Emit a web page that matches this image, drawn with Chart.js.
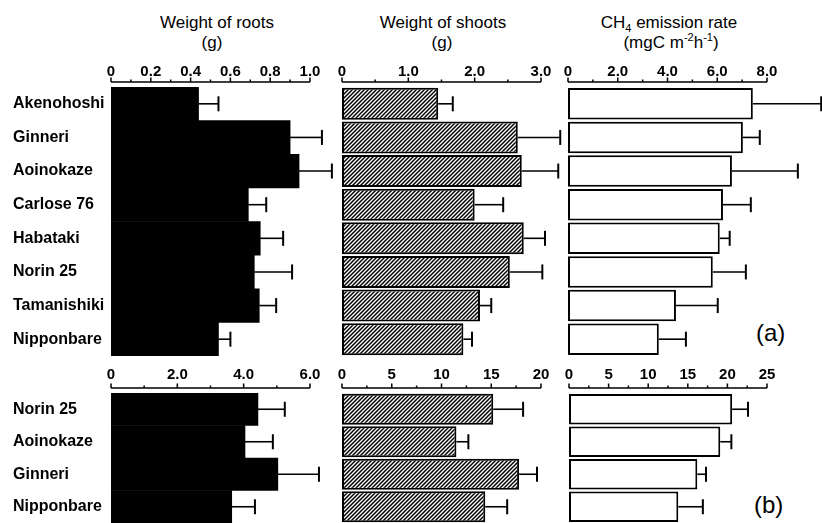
<!DOCTYPE html>
<html>
<head>
<meta charset="utf-8">
<script src="https://cdn.jsdelivr.net/npm/chart.js@4"></script>
<style>
  html, body { margin: 0; padding: 0; background: #fff; overflow: hidden; }
  body { width: 822px; height: 523px; position: relative; font-family: "Liberation Sans", Arial, sans-serif; color: #000; }
  canvas { position: absolute; }
  .t { position: absolute; width: 220px; text-align: center; font-size: 17px; line-height: 20px; white-space: nowrap; }
  .t sub, .t sup { font-size: 11px; line-height: 0; }
  .tag { position: absolute; font-size: 24px; line-height: 26px; }
</style>
</head>
<body>
<div class="t" style="left:107px;top:13px">Weight of roots</div>
<div class="t" style="left:102px;top:33px">(g)</div>
<div class="t" style="left:333px;top:13px">Weight of shoots</div>
<div class="t" style="left:332px;top:33px">(g)</div>
<div class="t" style="left:559px;top:13px">CH<sub>4</sub> emission rate</div>
<div class="t" style="left:561px;top:33px">(mgC m<sup>-2</sup>h<sup>-1</sup>)</div>
<div class="tag" style="left:756px;top:320px">(a)</div>
<div class="tag" style="left:754px;top:492px">(b)</div>

<canvas id="rootsA" width="325" height="310" style="left:13px;top:60px"></canvas>
<canvas id="shootsA" width="240" height="310" style="left:326px;top:60px"></canvas>
<canvas id="ch4A" width="270" height="310" style="left:552px;top:60px"></canvas>
<canvas id="rootsB" width="325" height="171" style="left:13px;top:366px"></canvas>
<canvas id="shootsB" width="240" height="171" style="left:326px;top:366px"></canvas>
<canvas id="ch4B" width="270" height="171" style="left:552px;top:366px"></canvas>

<script>
// (a) eight cultivars
const cultivarsA = ["Akenohoshi", "Ginneri", "Aoinokaze", "Carlose 76", "Habataki", "Norin 25", "Tamanishiki", "Nipponbare"]
const rootsA = [0.44, 0.90, 0.945, 0.69, 0.75, 0.72, 0.745, 0.54]
const rootsErrA = [0.10, 0.16, 0.165, 0.09, 0.115, 0.19, 0.085, 0.06]
const shootsA = [1.45, 2.65, 2.71, 2.0, 2.74, 2.53, 2.08, 1.83]
const shootsErrA = [0.22, 0.64, 0.55, 0.43, 0.32, 0.49, 0.17, 0.13]
const ch4A = [7.43, 7.03, 6.59, 6.23, 6.1, 5.82, 4.34, 3.65]
const ch4ErrA = [2.75, 0.68, 2.65, 1.12, 0.4, 1.33, 1.68, 1.09]

// (b) four cultivars
const cultivarsB = ["Norin 25", "Aoinokaze", "Ginneri", "Nipponbare"]
const rootsB = [4.43, 4.04, 5.03, 3.64]
const rootsErrB = [0.81, 0.84, 1.24, 0.70]
const shootsB = [15.2, 11.5, 17.8, 14.4]
const shootsErrB = [3.0, 1.2, 1.8, 2.2]
const ch4B = [20.6, 19.1, 16.2, 13.8]
const ch4ErrB = [2.0, 1.4, 1.1, 3.1]

// tick labels
const rootsTicksA = ["0", "0.2", "0.4", "0.6", "0.8", "1.0"]
const shootsTicksA = ["0", "1.0", "2.0", "3.0"]
const ch4TicksA = ["0", "2.0", "4.0", "6.0", "8.0"]
const rootsTicksB = ["0", "2.0", "4.0", "6.0"]
const shootsTicksB = ["0", "5", "10", "15", "20"]
const ch4TicksB = ["0", "5", "10", "15", "20", "25"]

const FONT = "'Liberation Sans', Arial, sans-serif"

function hatch() {
  const c = document.createElement("canvas")
  c.width = 4
  c.height = 4
  const g = c.getContext("2d")
  g.fillStyle = "#fff"
  g.fillRect(0, 0, 4, 4)
  g.strokeStyle = "#000"
  g.lineWidth = 1.5
  g.beginPath()
  g.moveTo(0, 4); g.lineTo(4, 0)
  g.moveTo(-1, 1); g.lineTo(1, -1)
  g.moveTo(3, 5); g.lineTo(5, 3)
  g.stroke()
  return g.createPattern(c, "repeat")
}

// axis line drawn a few px above the bars, with the scale's own ticks
const axisLine = {
  id: "axisLine",
  afterDraw(chart) {
    const x = chart.scales.x
    const ctx = chart.ctx
    const y0 = chart.chartArea.top - 5
    ctx.save()
    ctx.strokeStyle = "#000"
    ctx.lineWidth = 1.5
    ctx.beginPath()
    ctx.moveTo(x.getPixelForValue(x.min), y0)
    ctx.lineTo(x.getPixelForValue(x.max), y0)
    x.ticks.forEach((t) => {
      const px = x.getPixelForValue(t.value)
      ctx.moveTo(px, y0)
      ctx.lineTo(px, y0 - (t.label ? 4.5 : 2.5))
    })
    ctx.stroke()
    ctx.restore()
  },
}

const errorBars = {
  id: "errorBars",
  afterDatasetsDraw(chart) {
    const ctx = chart.ctx
    const x = chart.scales.x
    chart.data.datasets.forEach((ds, di) => {
      chart.getDatasetMeta(di).data.forEach((bar, i) => {
        const end = x.getPixelForValue(ds.data[i] + ds.errors[i])
        ctx.save()
        ctx.strokeStyle = "#000"
        ctx.lineWidth = 1.6
        ctx.beginPath()
        ctx.moveTo(bar.x, bar.y)
        ctx.lineTo(end, bar.y)
        ctx.stroke()
        ctx.lineWidth = 2
        ctx.beginPath()
        ctx.moveTo(end, bar.y - 7.5)
        ctx.lineTo(end, bar.y + 7.5)
        ctx.stroke()
        ctx.restore()
      })
    })
  },
}

function panel(id, o) {
  new Chart(document.getElementById(id), {
    type: "bar",
    data: {
      labels: o.labels,
      datasets: [
        {
          data: o.values,
          errors: o.errors,
          backgroundColor: o.fill,
          borderColor: "#000",
          borderWidth: o.border,
          borderSkipped: false,
          barPercentage: o.barPct,
          categoryPercentage: 1,
        },
      ],
    },
    options: {
      indexAxis: "y",
      responsive: false,
      animation: false,
      layout: { padding: o.pad },
      plugins: {
        legend: { display: false },
        tooltip: { enabled: false },
      },
      scales: {
        x: {
          position: "top",
          min: 0,
          max: o.max,
          grid: { display: false, drawTicks: false },
          border: { display: false },
          ticks: {
            stepSize: o.minor,
            autoSkip: false,
            maxRotation: 0,
            padding: o.tickPad,
            color: "#000",
            font: { family: FONT, size: 15, weight: "bold" },
            callback: (v) => {
              const hit = o.ticks.find((t) => Math.abs(parseFloat(t) - v) < 1e-6)
              return hit === undefined ? "" : hit
            },
          },
          afterFit: (s) => { s.height = 27 },
        },
        y: {
          display: o.showLabels,
          grid: { display: false },
          border: { display: false },
          ticks: {
            crossAlign: "far",
            color: "#000",
            font: { family: FONT, size: 16, weight: "bold" },
          },
          afterFit: (s) => { if (o.showLabels) s.width = 98 },
        },
      },
    },
    plugins: [axisLine, errorBars],
  })
}

const stripes = hatch()

panel("rootsA", { labels: cultivarsA, values: rootsA, errors: rootsErrA, ticks: rootsTicksA, max: 1.0, minor: 0.1,
  fill: "#000", border: 0, barPct: 1, showLabels: true, tickPad: 6.5, pad: { left: 0, right: 28, top: 0, bottom: 14 } })
panel("shootsA", { labels: cultivarsA, values: shootsA, errors: shootsErrA, ticks: shootsTicksA, max: 3.0, minor: 0.5,
  fill: stripes, border: 2, barPct: 0.95, showLabels: false, tickPad: 6.5, pad: { left: 16, right: 25, top: 0, bottom: 14 } })
panel("ch4A", { labels: cultivarsA, values: ch4A, errors: ch4ErrA, ticks: ch4TicksA, max: 8.0, minor: 1,
  fill: "#fff", border: 2, barPct: 0.94, showLabels: false, tickPad: 6.5, pad: { left: 16, right: 55, top: 0, bottom: 14 } })

panel("rootsB", { labels: cultivarsB, values: rootsB, errors: rootsErrB, ticks: rootsTicksB, max: 6.0, minor: 1,
  fill: "#000", border: 0, barPct: 1, showLabels: true, tickPad: 9, pad: { left: 0, right: 28, top: 0, bottom: 14 } })
panel("shootsB", { labels: cultivarsB, values: shootsB, errors: shootsErrB, ticks: shootsTicksB, max: 20, minor: 2.5,
  fill: stripes, border: 2, barPct: 0.95, showLabels: false, tickPad: 9, pad: { left: 16, right: 25, top: 0, bottom: 14 } })
panel("ch4B", { labels: cultivarsB, values: ch4B, errors: ch4ErrB, ticks: ch4TicksB, max: 25, minor: 2.5,
  fill: "#fff", border: 2, barPct: 0.94, showLabels: false, tickPad: 9, pad: { left: 17, right: 55, top: 0, bottom: 14 } })
</script>
</body>
</html>
